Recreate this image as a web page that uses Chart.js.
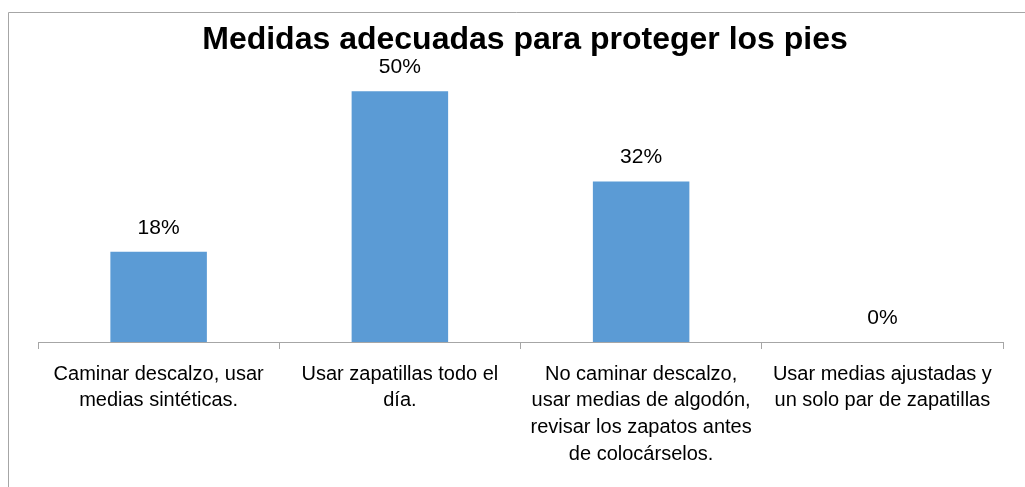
<!DOCTYPE html>
<html>
<head>
<meta charset="utf-8">
<script src="https://cdn.jsdelivr.net/npm/chart.js@4/dist/chart.umd.min.js"></script>
<style>
  html, body { margin: 0; padding: 0; background: #fff; }
  #wrap { width: 1025px; height: 487px; }
</style>
</head>
<body>
<div id="wrap"><canvas id="grafico"></canvas></div>
<script>
// datos del gráfico
const titulo = "Medidas adecuadas para proteger los pies";
const categorias = [
  ["Caminar descalzo, usar", "medias sintéticas."],
  ["Usar zapatillas todo el", "día."],
  ["No caminar descalzo,", "usar medias de algodón,", "revisar los zapatos antes", "de colocárselos."],
  ["Usar medias ajustadas y", "un solo par de zapatillas"]
];
const porcentajes = [18, 50, 32, 0];

const fuente = "'Liberation Sans', Arial, sans-serif";

// marco, título y etiquetas de datos
const extras = {
  id: "extras",
  beforeDraw(chart) {
    const c = chart.ctx;
    c.save();
    c.strokeStyle = "#a6a6a6";
    c.lineWidth = 1;
    c.beginPath();
    c.moveTo(8.5, 487);
    c.lineTo(8.5, 12.5);
    c.lineTo(1025, 12.5);
    c.stroke();
    c.restore();
  },
  afterDatasetsDraw(chart) {
    const c = chart.ctx;
    c.save();
    c.fillStyle = "#000";
    c.textAlign = "center";
    c.textBaseline = "alphabetic";
    c.font = "21px " + fuente;
    chart.getDatasetMeta(0).data.forEach((bar, i) => {
      c.fillText(porcentajes[i] + "%", bar.x, bar.y - 18);
    });
    c.font = "bold 32px " + fuente;
    c.fillText(titulo, 525, 49);
    c.restore();
  }
};

new Chart(document.getElementById("grafico"), {
  type: "bar",
  data: {
    labels: categorias,
    datasets: [{
      data: porcentajes,
      backgroundColor: "#5b9bd5",
      barPercentage: 0.4,
      categoryPercentage: 1
    }]
  },
  options: {
    responsive: true,
    maintainAspectRatio: false,
    animation: false,
    layout: { padding: { left: 38, right: 22, top: 41, bottom: 0 } },
    plugins: {
      legend: { display: false },
      tooltip: { enabled: false }
    },
    scales: {
      x: {
        grid: {
          offset: true,
          drawOnChartArea: false,
          drawTicks: true,
          tickLength: 7,
          color: "#a6a6a6"
        },
        border: { display: true, color: "#a6a6a6" },
        ticks: {
          color: "#000",
          maxRotation: 0,
          autoSkip: false,
          padding: 12,
          font: { family: fuente, size: 20, lineHeight: 1.33 }
        },
        afterFit(scale) { scale.height = 145; }
      },
      y: {
        display: false,
        min: 0,
        max: 60
      }
    }
  },
  plugins: [extras]
});
</script>
</body>
</html>
